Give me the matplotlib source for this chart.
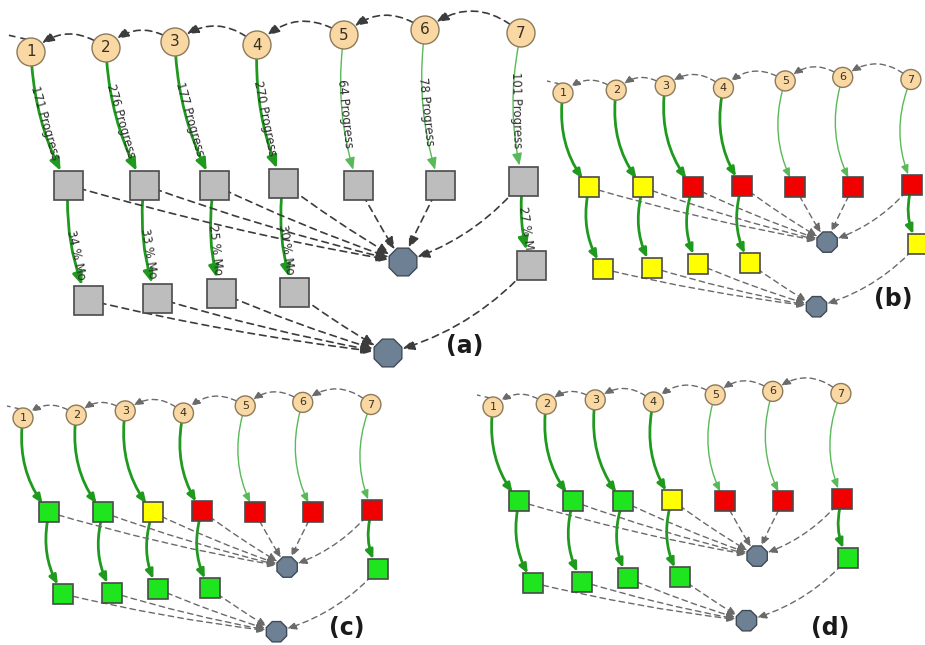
import numpy as np
import matplotlib.pyplot as plt
from matplotlib.patches import Circle, Rectangle, RegularPolygon, FancyArrowPatch

# --- data -------------------------------------------------------------
nodes = ['1', '2', '3', '4', '5', '6', '7']
progress = [171, 276, 177, 270, 64, 78, 101]          # edge labels circle -> task
second_nodes = [0, 1, 2, 3, 6]                        # nodes that have a second task
second_pct = [34, 33, 25, 30, 27]                     # edge labels task -> task

# status of tasks per panel: G green, Y yellow, R red, N none (gray)
status_upper = {
    'a': ['N', 'N', 'N', 'N', 'N', 'N', 'N'],
    'b': ['Y', 'Y', 'R', 'R', 'R', 'R', 'R'],
    'c': ['G', 'G', 'Y', 'R', 'R', 'R', 'R'],
    'd': ['G', 'G', 'G', 'Y', 'R', 'R', 'R'],
}
status_lower = {
    'a': ['N', 'N', 'N', 'N', 'N'],
    'b': ['Y', 'Y', 'Y', 'Y', 'Y'],
    'c': ['G', 'G', 'G', 'G', 'G'],
    'd': ['G', 'G', 'G', 'G', 'G'],
}

# --- layout (pixel offsets relative to node 1, panel a scale) ----------
circ_xy = [(0, 0), (75, -4), (144, -10), (226, -7), (313, -17), (394, -22), (490, -19)]
up_xy = [(37, 133), (113, 133), (183, 133), (252, 131), (327, 133), (409, 133), (492, 129)]
low_xy = [(57, 248), (126, 246), (190, 241), (263, 240), (500, 213)]
oct_up = (372, 210)
oct_low = (357, 301)

panels = {
    'a': dict(origin=(31, 52), s=1.0, rc=14, sq=29, ro=15, fs=11, rad=0.12, lab=(465, 346), lfs=17),
    'b': dict(origin=(563, 93), s=0.71, rc=10, sq=20, ro=11, fs=8, rad=0.22, lab=(893, 299), lfs=17),
    'c': dict(origin=(23, 418), s=0.71, rc=10, sq=20, ro=11, fs=8, rad=0.22, lab=(347, 628), lfs=17),
    'd': dict(origin=(493, 407), s=0.71, rc=10, sq=20, ro=11, fs=8, rad=0.22, lab=(830, 628), lfs=17),
}

colors = {'N': '#bdbdbd', 'G': '#1ee51e', 'Y': '#ffff00', 'R': '#f20000'}
PT = 0.72  # px -> pt at 100 dpi

fig = plt.figure(figsize=(9.25, 6.45), dpi=100)
ax = fig.add_axes([0, 0, 1, 1])
ax.set_xlim(0, 925)
ax.set_ylim(645, 0)
ax.axis('off')


def arrow(p, q, sa, sb, rad, color, lw, ls, ms=11, z=2):
    a = FancyArrowPatch(p, q, connectionstyle=f'arc3,rad={rad}',
                        arrowstyle='-|>,head_length=0.6,head_width=0.25',
                        mutation_scale=ms, shrinkA=sa * PT, shrinkB=sb * PT,
                        color=color, lw=lw, linestyle=ls, zorder=z)
    ax.add_patch(a)


def edge_label(p, q, rad, text, t, fs):
    p, q = np.array(p), np.array(q)
    d = q - p
    ctrl = (p + q) / 2 + rad * np.array([-d[1], d[0]])
    pt = (1 - t) ** 2 * p + 2 * (1 - t) * t * ctrl + t ** 2 * q
    tan = 2 * (1 - t) * (ctrl - p) + 2 * t * (q - ctrl)
    ang = np.degrees(np.arctan2(-tan[1], tan[0]))
    ax.text(pt[0] + 3, pt[1], text, rotation=ang, rotation_mode='anchor',
            ha='center', va='center', fontsize=fs, color='#2e2e2e', zorder=4)


for key, P in panels.items():
    ox, oy = P['origin']
    s = P['s']
    pos = lambda r: (ox + s * r[0], oy + s * r[1])
    C = [pos(r) for r in circ_xy]
    U = [pos(r) for r in up_xy]
    L = [pos(r) for r in low_xy]
    O1, O2 = pos(oct_up), pos(oct_low)
    rc, sq, ro = P['rc'], P['sq'], P['ro']
    dash_c = '#3c3c3c' if key == 'a' else '#6a6a6a'
    dlw = 1.2 if key == 'a' else 1.0
    ms = 12 if key == 'a' else 9

    # dashed arcs between the numbered nodes
    for i in range(6, 0, -1):
        arrow(C[i], C[i - 1], rc, rc, 0.42, dash_c, dlw, (0, (4, 3)), ms)
    ax.plot([C[0][0] - rc * 0.3, C[0][0] - rc * 1.6], [C[0][1] - rc * 0.9, C[0][1] - rc * 1.2],
            color=dash_c, lw=dlw, ls=(0, (4, 3)), zorder=2)

    # green edges node -> first task
    for i in range(7):
        thick = i < 4
        col = '#1f9a1f' if thick else '#59b959'
        arrow(C[i], U[i], rc, sq * 0.55, P['rad'], col, 2.0 if thick else 1.0, '-', ms)
        if key == 'a':
            edge_label(C[i], U[i], P['rad'], f'{progress[i]} Progress', 0.52, 8.5)

    # green edges first task -> second task
    for j, i in enumerate(second_nodes):
        arrow(U[i], L[j], sq * 0.5, sq * 0.55, P['rad'], '#1f9a1f', 2.0, '-', ms)
        if key == 'a':
            edge_label(U[i], L[j], P['rad'], f'{second_pct[j]} % Mo', 0.6, 8.5)

    # dashed edges tasks -> collectors
    for i in range(7):
        arrow(U[i], O1, 0, ro, 0.03 if i < 6 else -0.15, dash_c, dlw, (0, (4, 3)), ms)
    for j in range(5):
        arrow(L[j], O2, 0, ro, 0.03 if j < 4 else -0.15, dash_c, dlw, (0, (4, 3)), ms)

    # nodes
    for i, c in enumerate(C):
        ax.add_patch(Circle(c, rc, facecolor='#f9d8a3', edgecolor='#8c7a5a', lw=1.0, zorder=5))
        ax.text(c[0], c[1], nodes[i], ha='center', va='center', fontsize=P['fs'],
                color='#3a3020', zorder=6)
    for i, u in enumerate(U):
        ax.add_patch(Rectangle((u[0] - sq / 2, u[1] - sq / 2), sq, sq,
                               facecolor=colors[status_upper[key][i]],
                               edgecolor='#4a4a4a', lw=1.2, zorder=5))
    for j, l in enumerate(L):
        ax.add_patch(Rectangle((l[0] - sq / 2, l[1] - sq / 2), sq, sq,
                               facecolor=colors[status_lower[key][j]],
                               edgecolor='#4a4a4a', lw=1.2, zorder=5))
    for o in (O1, O2):
        ax.add_patch(RegularPolygon(o, numVertices=8, radius=ro, orientation=np.pi / 8,
                                    facecolor='#6e8194', edgecolor='#3e4a56', lw=1.0, zorder=5))

    ax.text(P['lab'][0], P['lab'][1], f'({key})', ha='center', va='center',
            fontsize=P['lfs'], fontweight='bold', color='#1a1a1a', zorder=6)

fig.savefig('out.png', dpi=100)
